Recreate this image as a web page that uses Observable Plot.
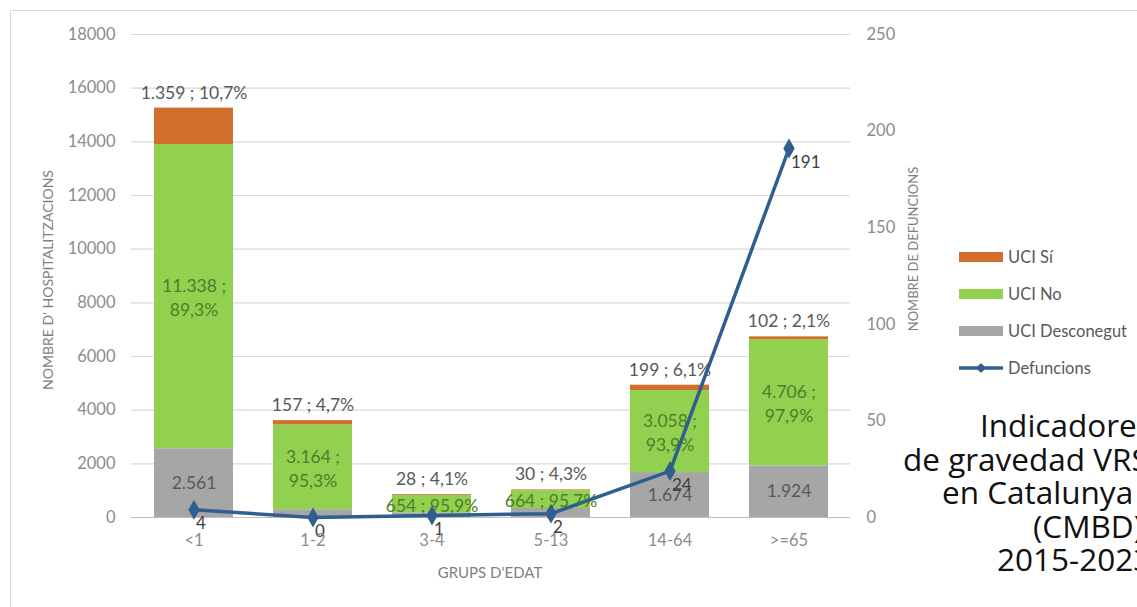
<!DOCTYPE html>
<html>
<head>
<meta charset="utf-8">
<script src="https://cdn.jsdelivr.net/npm/d3@7"></script>
<script src="https://cdn.jsdelivr.net/npm/@observablehq/plot@0.6"></script>
<style>
  html, body { margin: 0; padding: 0; background: #fff; }
  body { width: 1137px; height: 607px; overflow: hidden; position: relative; font-family: Lato, "Open Sans", sans-serif; }
  #frame { position: absolute; left: 10px; top: 10px; width: 1300px; height: 800px; border: 1.5px solid #d9d9d9; box-sizing: border-box; }
  #chart { position: absolute; left: 0; top: 0; }
  #legend { position: absolute; left: 959px; top: 238px; }
  .item { display: flex; align-items: center; height: 37px; font-size: 16.5px; color: #595959; }
  .item svg { margin-right: 5px; }
  #caption { position: absolute; left: 0; top: 0; font-family: "Open Sans", sans-serif; font-size: 31.5px; color: #111; white-space: nowrap; }
  #caption div { position: absolute; line-height: 34px; }
</style>
</head>
<body>
<div id="frame"></div>
<div id="chart"></div>
<div id="legend"></div>
<div id="caption"></div>
<script>
// Age groups (x axis)
const groups = ["<1", "1-2", "3-4", "5-13", "14-64", ">=65"];
// Hospitalisations by ICU status
const uciSi   = [1359, 157, 28, 30, 199, 102];
const uciNo   = [11338, 3164, 654, 664, 3058, 4706];
const uciDesc = [2561, 290, 175, 335, 1674, 1924];
// Deaths (right axis)
const deaths  = [4, 0, 1, 2, 24, 191];
// Axis ticks
const leftTicks  = [0, 2000, 4000, 6000, 8000, 10000, 12000, 14000, 16000, 18000];
const rightTicks = [0, 50, 100, 150, 200, 250];
// Series names and colours
const seriesNames  = ["UCI Sí", "UCI No", "UCI Desconegut", "Defuncions"];
const seriesColors = ["#d0702c", "#92d050", "#a6a6a6", "#2f5f8f"];
// Caption lines
const captionLines = ["Indicadores", "de gravedad VRS", "en Catalunya", "(CMBD)", "2015-2023"];

// ---- layout constants ----
const captionLeft = [980, 903, 942, 1033, 997];
const captionTop  = 408;
const k = 18000 / 250; // deaths -> left-axis units

const fmt = n => d3.format(",")(n).replace(/,/g, ".");
const pct = (a, b) => (a / (a + b) * 100).toFixed(1).replace(".", ",") + "%";

const rows = [];
groups.forEach((g, i) => {
  rows.push({group: g, series: "UCI Desconegut", value: uciDesc[i]});
  rows.push({group: g, series: "UCI No", value: uciNo[i]});
  rows.push({group: g, series: "UCI Sí", value: uciSi[i]});
});

const labels = groups.map((g, i) => {
  const total = uciDesc[i] + uciNo[i] + uciSi[i];
  const big = uciNo[i] > 1000;
  return {
    group: g,
    top: total,
    siText: `${fmt(uciSi[i])} ; ${pct(uciSi[i], uciNo[i])}`,
    noMid: uciDesc[i] + uciNo[i] / 2,
    noText: big ? `${fmt(uciNo[i])} ;\n${pct(uciNo[i], uciSi[i])}` : `${fmt(uciNo[i])} ; ${pct(uciNo[i], uciSi[i])}`,
    descMid: uciDesc[i] / 2,
    descText: uciDesc[i] > 1000 ? fmt(uciDesc[i]) : ""
  };
});

const deathRows = groups.map((g, i) => ({group: g, deaths: deaths[i]}));

const chart = Plot.plot({
  width: 1137,
  height: 607,
  marginLeft: 131,
  marginRight: 287,
  marginTop: 34,
  marginBottom: 90,
  style: {fontFamily: "Lato, sans-serif", fontSize: "16.5px", color: "#8c8c8c", background: "transparent"},
  x: {domain: groups, paddingInner: 0.34, paddingOuter: 0.17, axis: null},
  y: {domain: [0, 18000], axis: null},
  color: {domain: seriesNames.slice(0, 3), range: seriesColors.slice(0, 3)},
  marks: [
    Plot.gridY(leftTicks, {stroke: "#d9d9d9", strokeOpacity: 1, strokeWidth: 1.2}),
    Plot.barY(rows, {x: "group", y: "value", fill: "series", order: ["UCI Desconegut", "UCI No", "UCI Sí"]}),
    Plot.ruleY([0], {stroke: "#bfbfbf", strokeWidth: 1.2}),
    Plot.text(labels, {x: "group", y: "top", text: "siText", dy: -15, fill: "#595959", fontSize: 17.5}),
    Plot.text(labels, {x: "group", y: "noMid", text: "noText", fill: "#4f7d2a", fontSize: 17.5, lineHeight: 1.35}),
    Plot.text(labels, {x: "group", y: "descMid", text: "descText", fill: "#595959", fontSize: 17.5}),
    Plot.line(deathRows, {x: "group", y: d => d.deaths * k, stroke: seriesColors[3], strokeWidth: 3.5}),
    Plot.dot(deathRows, {x: "group", y: d => d.deaths * k, symbol: "diamond", r: 6, fill: seriesColors[3]}),
    Plot.text(deathRows, {x: "group", y: d => d.deaths * k, text: d => String(d.deaths), textAnchor: "start", dx: 2, dy: 14, fill: "#404040", fontSize: 17}),
    Plot.axisY(leftTicks, {anchor: "left", tickSize: 0, tickPadding: 16, label: null, tickFormat: d => String(d), fill: "#8c8c8c"}),
    Plot.axisY(rightTicks.map(v => v * k), {anchor: "right", tickSize: 0, tickPadding: 16, label: null, tickFormat: d => String(Math.round(d / k)), fill: "#8c8c8c"}),
    Plot.axisX({tickSize: 0, tickPadding: 17, label: null, fill: "#8c8c8c"}),
    Plot.text(["NOMBRE D' HOSPITALITZACIONS"], {frameAnchor: "left", textAnchor: "middle", dx: -83, dy: 4, rotate: -90, fill: "#7f7f7f", fontSize: 14}),
    Plot.text(["NOMBRE DE DEFUNCIONS"], {frameAnchor: "right", textAnchor: "middle", dx: 63, dy: -27, rotate: -90, fill: "#7f7f7f", fontSize: 13}),
    Plot.text(["GRUPS D'EDAT"], {frameAnchor: "bottom", dx: -1, dy: 60, fill: "#7f7f7f", fontSize: 15})
  ]
});
document.getElementById("chart").append(chart);

// Legend
const legend = document.getElementById("legend");
seriesNames.forEach((name, i) => {
  const item = document.createElement("div");
  item.className = "item";
  const sw = i < 3
    ? `<svg width="44" height="12"><rect x="0" y="1" width="44" height="10" fill="${seriesColors[i]}"/></svg>`
    : `<svg width="44" height="12"><line x1="0" y1="6" x2="44" y2="6" stroke="${seriesColors[i]}" stroke-width="3.5"/><path d="M22 1 L27 6 L22 11 L17 6 Z" fill="${seriesColors[i]}"/></svg>`;
  item.innerHTML = sw + `<span>${name}</span>`;
  legend.append(item);
});

// Caption
const caption = document.getElementById("caption");
captionLines.forEach((t, i) => {
  const line = document.createElement("div");
  line.textContent = t;
  line.style.left = captionLeft[i] + "px";
  line.style.top = (captionTop + i * 33.5) + "px";
  caption.append(line);
});
</script>
</body>
</html>
